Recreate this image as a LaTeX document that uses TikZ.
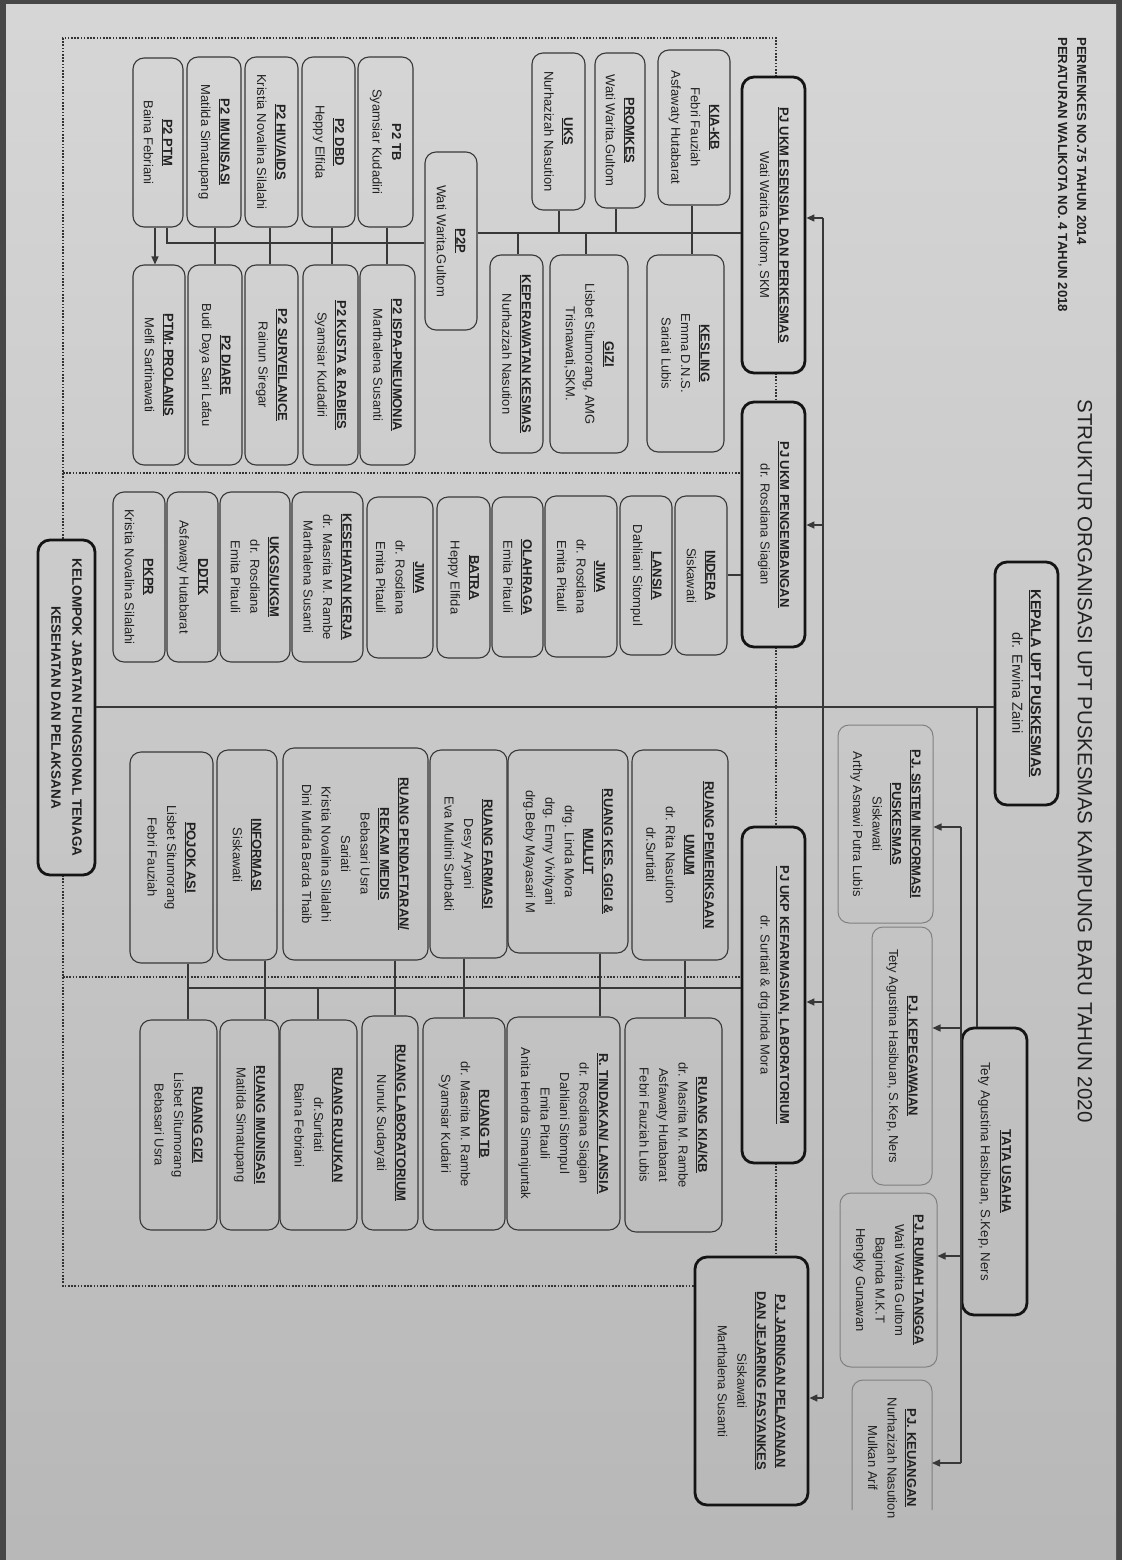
\documentclass[tikz,border=0pt]{standalone}
\usepackage{fontspec}
\setmainfont{Liberation Sans}
\usetikzlibrary{arrows.meta}
\definecolor{ink}{gray}{0.13}
\definecolor{edge}{gray}{0.22}
\newcommand\ul[1]{\underline{\textbf{#1}}}
% #1 name, #2 style, #3 x1, #4 y1, #5 x2, #6 y2, #7 text  (image coordinates)
\newcommand\bx[7]{\node[#2, minimum width={(#6)-(#4)}, minimum height={(#5)-(#3)}] (#1) at ({((#3)+(#5))/2},{((#4)+(#6))/2}) {#7};}
\tikzset{
 cellbase/.style={rotate=-90, align=center, inner sep=2pt, text=ink, font={\fontsize{13}{19.5}\selectfont}, rounded corners=11pt},
 sbox/.style={cellbase, draw=edge, line width=1.1pt},
 hbox/.style={cellbase, draw=black!92, line width=2.8pt, rounded corners=12pt},
 tbox/.style={cellbase, draw=black!50, line width=1pt},
 conn/.style={draw=edge, line width=1.3pt},
 arr/.style={conn, -{Triangle[length=8pt,width=7pt]}},
 dotframe/.style={draw=black!80, line width=1.6pt, dash pattern=on 1.6pt off 1.6pt},
}
\begin{document}
\begin{tikzpicture}[x=1pt,y=-1pt]
\useasboundingbox (0,0) rectangle (1122,1560);
\fill[black!72] (0,0) rectangle (1122,1560);
\shade[top color=black!16, bottom color=black!28] (6,5) rectangle (1116,1560);

% header and title
\node[rotate=-90, anchor=base west, inner sep=0, text=ink, font={\bfseries\fontsize{13.2}{16}\selectfont}] (hdr1) at (1077,37) {PERMENKES NO.75 TAHUN 2014};
\node[rotate=-90, anchor=base west, inner sep=0, text=ink, font={\bfseries\fontsize{13.2}{16}\selectfont}] (hdr2) at (1058,37) {PERATURAN WALIKOTA NO. 4 TAHUN 2018};
\node[rotate=-90, inner sep=0, text=ink, font={\fontsize{20.5}{24}\selectfont}] (title) at (1085,761) {STRUKTUR ORGANISASI UPT PUSKESMAS KAMPUNG BARU TAHUN 2020};

% dotted frame
\draw[dotframe] (776,77) -- (776,38) -- (63,38) -- (63,540);
\draw[dotframe] (63,875) -- (63,1286) -- (695,1286);
\draw[dotframe] (776,373) -- (776,402);
\draw[dotframe] (776,647) -- (776,827);
\draw[dotframe] (776,1163) -- (776,1257);
\draw[dotframe] (63,473) -- (742,473);
\draw[dotframe] (63,977) -- (742,977);

% head boxes
\bx{kepala}{hbox, font={\fontsize{14.5}{18.5}\selectfont}}{995}{562}{1058}{805}{\ul{KEPALA UPT PUSKESMAS}\\dr. Erwina Zaini}
\bx{tata}{hbox, font={\fontsize{13.3}{21}\selectfont}}{962}{1028}{1027}{1315}{\ul{TATA USAHA}\\Tety Agustina Hasibuan, S.Kep, Ners}
\bx{esensial}{hbox}{742}{77}{805}{373}{\ul{PJ UKM ESENSIAL DAN PERKESMAS}\\Wati Warita Gultom, SKM}
\bx{pengembangan}{hbox}{742}{402}{805}{647}{\ul{PJ UKM PENGEMBANGAN}\\dr. Rosdiana Siagian}
\bx{ukp}{hbox}{742}{827}{805}{1163}{\ul{PJ UKP KEFARMASIAN, LABORATORIUM}\\dr. Surtiati \& drg.linda Mora}
\bx{jaringan}{hbox}{695}{1257}{808}{1505}{\ul{PJ. JARINGAN PELAYANAN}\\\ul{DAN JEJARING FASYANKES}\\Siskawati\\Marthalena Susanti}
\bx{kelompok}{hbox, font={\bfseries\fontsize{13.5}{21}\selectfont}}{38}{540}{95}{875}{KELOMPOK JABATAN FUNGSIONAL TENAGA\\KESEHATAN DAN PELAKSANA}

% tata usaha staff
\bx{sistem}{tbox}{838}{725}{933}{923}{\ul{PJ. SISTEM INFORMASI}\\\ul{PUSKESMAS}\\Siskawati\\Arthy Asnawi Putra Lubis}
\bx{kepeg}{tbox}{872}{927}{932}{1185}{\ul{PJ. KEPEGAWAIAN}\\Tety Agustina Hasibuan, S.Kep, Ners}
\bx{rumah}{tbox}{840}{1193}{937}{1367}{\ul{PJ. RUMAH TANGGA}\\Wati Warita Gultom\\Baginda M.K.T\\Hengky Gunawan}
\node[cellbase, rounded corners=0pt] (keuangan) at (892,1458) {\ul{PJ. KEUANGAN}\\Nurhazizah Nasution\\Mulkan Arif};
\draw[draw=black!50, line width=1pt, rounded corners=11pt] (852,1510) |- (892,1380) -| (932,1510);

% UKM esensial
\bx{kiakb}{sbox}{658}{50}{730}{205}{\ul{KIA-KB}\\Febri Fauziah\\Asfawaty Hutabarat}
\bx{promkes}{sbox}{595}{53}{645}{208}{\ul{PROMKES}\\Wati Warita.Gultom}
\bx{uks}{sbox}{532}{53}{585}{210}{\ul{UKS}\\Nurhazizah Nasution}
\bx{kesling}{sbox}{647}{255}{724}{452}{\ul{KESLING}\\Emma D.N.S.\\Sariati Lubis}
\bx{gizi}{sbox}{550}{255}{628}{453}{\ul{GIZI}\\Lisbet Situmorang, AMG\\Trisnawati,SKM.}
\bx{keperawatan}{sbox}{490}{255}{543}{453}{\ul{KEPERAWATAN KESMAS}\\Nurhazizah Nasution}
\bx{p2p}{sbox}{425}{152}{477}{330}{\ul{P2P}\\Wati Warita.Gultom}
\bx{p2tb}{sbox}{358}{57}{413}{227}{\textbf{P2 TB}\\Syamsiar Kudadiri}
\bx{p2dbd}{sbox}{302}{57}{355}{227}{\ul{P2 DBD}\\Heppy Elfida}
\bx{p2hiv}{sbox}{245}{57}{298}{227}{\ul{P2 HIV/AIDS}\\Kristia Novalina Silalahi}
\bx{p2imun}{sbox}{187}{57}{241}{227}{\ul{P2 IMUNISASI}\\Matilda Simatupang}
\bx{p2ptm}{sbox}{133}{58}{183}{227}{\ul{P2 PTM}\\Baina Febriani}
\bx{p2ispa}{sbox}{360}{265}{415}{465}{\ul{P2 ISPA-PNEUMONIA}\\Marthalena Susanti}
\bx{p2kusta}{sbox}{303}{265}{358}{465}{\ul{P2 KUSTA \& RABIES}\\Syamsiar Kudadiri}
\bx{p2surv}{sbox}{245}{265}{298}{465}{\ul{P2 SURVEILANCE}\\Rainun Siregar}
\bx{p2diare}{sbox}{188}{265}{242}{465}{\ul{P2 DIARE}\\Budi Daya Sari Lafau}
\bx{prolanis}{sbox}{133}{265}{185}{465}{\ul{PTM: PROLANIS}\\Melfi Sartinawati}

% UKM pengembangan
\bx{indera}{sbox}{675}{496}{727}{655}{\ul{INDERA}\\Siskawati}
\bx{lansia}{sbox}{620}{496}{672}{655}{\ul{LANSIA}\\Dahliani Sitompul}
\bx{jiwa1}{sbox}{545}{496}{617}{657}{\ul{JIWA}\\dr. Rosdiana\\Emita Pitauli}
\bx{olahraga}{sbox}{492}{497}{543}{657}{\ul{OLAHRAGA}\\Emita Pitauli}
\bx{batra}{sbox}{437}{497}{490}{658}{\ul{BATRA}\\Heppy Elfida}
\bx{jiwa2}{sbox}{367}{497}{433}{658}{\ul{JIWA}\\dr. Rosdiana\\Emita Pitauli}
\bx{kesker}{sbox}{292}{492}{363}{662}{\ul{KESEHATAN KERJA}\\dr. Masrita M. Rambe\\Marthalena Susanti}
\bx{ukgs}{sbox}{220}{492}{290}{662}{\ul{UKGS/UKGM}\\dr. Rosdiana\\Emita Pitauli}
\bx{ddtk}{sbox}{167}{492}{218}{662}{\ul{DDTK}\\Asfawaty Hutabarat}
\bx{pkpr}{sbox}{113}{492}{165}{662}{\ul{PKPR}\\Kristia Novalina Silalahi}

% UKP upper row
\bx{periksa}{sbox}{632}{750}{728}{960}{\ul{RUANG PEMERIKSAAN}\\\ul{UMUM}\\dr. Rita Nasution\\dr.Surtiati}
\bx{gigi}{sbox}{508}{750}{628}{953}{\ul{RUANG KES. GIGI \&}\\\ul{MULUT}\\drg. Linda Mora\\drg. Enny Vivityani\\drg.Beby Mayasari M}
\bx{farmasi}{sbox}{430}{750}{507}{958}{\ul{RUANG FARMASI}\\Desy Aryani\\Eva Multini Surbakti}
\bx{daftar}{sbox}{283}{748}{428}{960}{\ul{RUANG PENDAFTARAN/}\\\ul{REKAM MEDIS}\\Bebasari Usra\\Sariati\\Kristia Novalina Silalahi\\Dini Mufida Barda Thaib}
\bx{informasi}{sbox}{217}{750}{277}{960}{\ul{INFORMASI}\\Siskawati}
\bx{pojok}{sbox}{130}{752}{213}{963}{\ul{POJOK ASI}\\Lisbet Situmorang\\Febri Fauziah}
% UKP lower row
\bx{kia}{sbox}{625}{1018}{722}{1232}{\ul{RUANG KIA/KB}\\dr. Masrita M. Rambe\\Asfawaty Hutabarat\\Febri Fauziah Lubis}
\bx{tindakan}{sbox}{507}{1017}{620}{1230}{\ul{R. TINDAKAN/ LANSIA}\\dr. Rosdiana Siagian\\Dahliani Sitompul\\Emita Pitauli\\Anita Hendra Simanjuntak}
\bx{rtb}{sbox}{423}{1018}{505}{1230}{\ul{RUANG TB}\\dr. Masrita M. Rambe\\Syamsiar Kudairi}
\bx{lab}{sbox}{362}{1016}{418}{1230}{\ul{RUANG LABORATORIUM}\\Nunuk Sudaryati}
\bx{rujukan}{sbox}{280}{1020}{357}{1230}{\ul{RUANG RUJUKAN}\\dr.Surtiati\\Baina Febriani}
\bx{rimun}{sbox}{220}{1020}{279}{1230}{\ul{RUANG IMUNISASI}\\Matilda Simatupang}
\bx{rgizi}{sbox}{140}{1020}{217}{1230}{\ul{RUANG GIZI}\\Lisbet Situmorang\\Bebasari Usra}

% ---- connectors ----
% main bus
\coordinate (bT) at (823,218);
\coordinate (bP) at (823,525);
\coordinate (bU) at (823,1002);
\coordinate (bB) at (823,1398);
\coordinate (kj) at (977,707);
\draw[conn, line width=1.7pt] (bT) -- (bB);
\draw[conn, line width=1.7pt] (kepala.south |- kj) -- (kelompok.north |- kj);
\draw[conn, line width=1.7pt] (kj) -- (kj |- tata.west);
\draw[arr] (bT) -- (bT -| esensial.north);
\draw[arr] (bP) -- (bP -| pengembangan.north);
\draw[arr] (bU) -- (bU -| ukp.north);
\draw[arr] (bB) -- (bB -| jaringan.north);

% tata usaha bus
\coordinate (tT) at (961,827);
\coordinate (tK) at (961,1028);
\coordinate (tR) at (961,1256);
\coordinate (tB) at (961,1463);
\coordinate (keuR) at (932,1463);
\draw[conn] (tT) -- (tB);
\draw[arr] (tT) -- (tT -| sistem.north);
\draw[arr] (tK) -- (tK -| kepeg.north);
\draw[arr] (tR) -- (tR -| rumah.north);
\draw[arr] (tB) -- (keuR);

% esensial column
\coordinate (eR) at (0,233);
\coordinate (eL) at (0,243);
\coordinate (x692) at (692,0);
\coordinate (x616) at (616,0);
\coordinate (x559) at (559,0);
\coordinate (x586) at (586,0);
\coordinate (x518) at (518,0);
\coordinate (x387) at (387,0);
\coordinate (x332) at (332,0);
\coordinate (x270) at (270,0);
\coordinate (x215) at (215,0);
\coordinate (x167) at (167,0);
\coordinate (x155) at (155,0);
\draw[conn] (esensial.south |- eR) -- (p2p.north |- eR);
\draw[conn] (p2ptm.east -| x167) |- (p2p.south |- eL);
\draw[conn] (kiakb.east -| x692) -- (kesling.west -| x692);
\draw[conn] (promkes.east -| x616) -- (x616 |- eR);
\draw[conn] (uks.east -| x559) -- (x559 |- eR);
\draw[conn] (x586 |- eR) -- (gizi.west -| x586);
\draw[conn] (x518 |- eR) -- (keperawatan.west -| x518);
\draw[conn] (p2tb.east -| x387) -- (p2ispa.west -| x387);
\draw[conn] (p2dbd.east -| x332) -- (p2kusta.west -| x332);
\draw[conn] (p2hiv.east -| x270) -- (p2surv.west -| x270);
\draw[conn] (p2imun.east -| x215) -- (p2diare.west -| x215);
\draw[arr] (p2ptm.east -| x155) -- (prolanis.west -| x155);

% pengembangan
\coordinate (y575) at (0,575);
\draw[conn] (indera.north |- y575) -- (pengembangan.south |- y575);

% ukp column
\coordinate (y988) at (0,988);
\coordinate (x685) at (685,0);
\coordinate (x600) at (600,0);
\coordinate (x464) at (464,0);
\coordinate (x395) at (395,0);
\coordinate (x318) at (318,0);
\coordinate (x265) at (265,0);
\coordinate (x188) at (188,0);
\draw[conn] (ukp.south |- y988) -- (x188 |- y988);
\draw[conn] (periksa.east -| x685) -- (kia.west -| x685);
\draw[conn] (gigi.east -| x600) -- (tindakan.west -| x600);
\draw[conn] (farmasi.east -| x464) -- (rtb.west -| x464);
\draw[conn] (daftar.east -| x395) -- (lab.west -| x395);
\draw[conn] (x318 |- y988) -- (rujukan.west -| x318);
\draw[conn] (informasi.east -| x265) -- (rimun.west -| x265);
\draw[conn] (pojok.east -| x188) -- (rgizi.west -| x188);
\end{tikzpicture}
\end{document}
